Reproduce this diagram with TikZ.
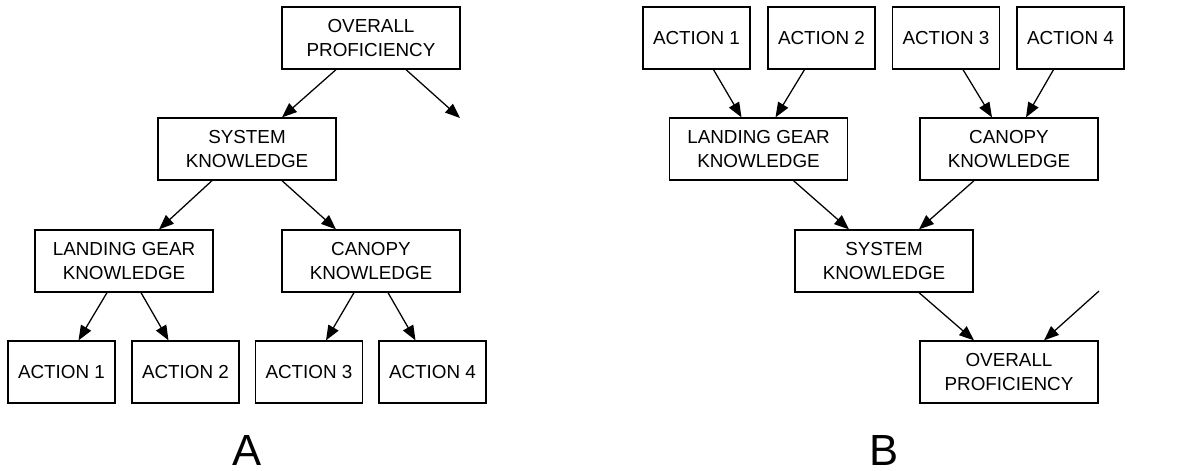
\documentclass[tikz,border=0pt]{standalone}
\usepackage{fontspec}
\setmainfont{Liberation Sans}
\usetikzlibrary{arrows.meta,calc}

\tikzset{
    box/.style={draw, line width=0.9pt, align=center, inner sep=0pt,
        minimum width=4.45cm, minimum height=1.55cm,
        font=\fontsize{13.4pt}{17pt}\selectfont},
    actbox/.style={box, minimum width=2.675cm},
    link/.style={-{Triangle[length=0.37cm,width=0.29cm]}, line width=0.9pt},
    panel/.style={anchor=base, inner sep=0pt, font=\fontsize{31pt}{31pt}\selectfont}
}

\begin{document}
\begin{tikzpicture}[x=0.025cm, y=-0.025cm]
    \useasboundingbox (0,0) rectangle (1194,470);

    % Panel A: top-down
    \begin{scope}
        \node[box] (opA) at (371,38) {OVERALL\\PROFICIENCY};
        \node[box] (sysA) at (247,149) {SYSTEM\\KNOWLEDGE};
        \node[box] (lgA) at (124,261) {LANDING GEAR\\KNOWLEDGE};
        \node[box] (canA) at (371,261) {CANOPY\\KNOWLEDGE};
        \node[actbox] (actA1) at (61.5,372) {ACTION 1};
        \node[actbox] (actA2) at (185.5,372) {ACTION 2};
        \node[actbox] (actA3) at (309,372) {ACTION 3};
        \node[actbox] (actA4) at (432.5,372) {ACTION 4};
        \coordinate (outA) at (460,118);
        \node[panel] (labA) at (247,465) {A};

        \draw[link] ($(opA.south)+(-35,0)$) -- ($(sysA.north)+(35,0)$);
        \draw[link] ($(opA.south)+(35,0)$) -- (outA);
        \draw[link] ($(sysA.south)+(-35,0)$) -- ($(lgA.north)+(35,0)$);
        \draw[link] ($(sysA.south)+(35,0)$) -- ($(canA.north)+(-35,0)$);
        \draw[link] ($(lgA.south)+(-17,0)$) -- ($(actA1.north)+(17,0)$);
        \draw[link] ($(lgA.south)+(17,0)$) -- ($(actA2.north)+(-17,0)$);
        \draw[link] ($(canA.south)+(-17,0)$) -- ($(actA3.north)+(17,0)$);
        \draw[link] ($(canA.south)+(17,0)$) -- ($(actA4.north)+(-17,0)$);
    \end{scope}

    % Panel B: bottom-up
    \begin{scope}
        \node[actbox] (actB1) at (696.5,38) {ACTION 1};
        \node[actbox] (actB2) at (821.5,38) {ACTION 2};
        \node[actbox] (actB3) at (946,38) {ACTION 3};
        \node[actbox] (actB4) at (1070.5,38) {ACTION 4};
        \node[box] (lgB) at (758.5,149) {LANDING GEAR\\KNOWLEDGE};
        \node[box] (canB) at (1009,149) {CANOPY\\KNOWLEDGE};
        \node[box] (sysB) at (884,261) {SYSTEM\\KNOWLEDGE};
        \node[box] (opB) at (1009,372) {OVERALL\\PROFICIENCY};
        \coordinate (inB) at (1099,291);
        \node[panel] (labB) at (884,465) {B};

        \draw[link] ($(actB1.south)+(17,0)$) -- ($(lgB.north)+(-17,0)$);
        \draw[link] ($(actB2.south)+(-17,0)$) -- ($(lgB.north)+(17,0)$);
        \draw[link] ($(actB3.south)+(17,0)$) -- ($(canB.north)+(-17,0)$);
        \draw[link] ($(actB4.south)+(-17,0)$) -- ($(canB.north)+(17,0)$);
        \draw[link] ($(lgB.south)+(35,0)$) -- ($(sysB.north)+(-35,0)$);
        \draw[link] ($(canB.south)+(-35,0)$) -- ($(sysB.north)+(35,0)$);
        \draw[link] ($(sysB.south)+(35,0)$) -- ($(opB.north)+(-35,0)$);
        \draw[link] (inB) -- ($(opB.north)+(35,0)$);
    \end{scope}
\end{tikzpicture}
\end{document}
